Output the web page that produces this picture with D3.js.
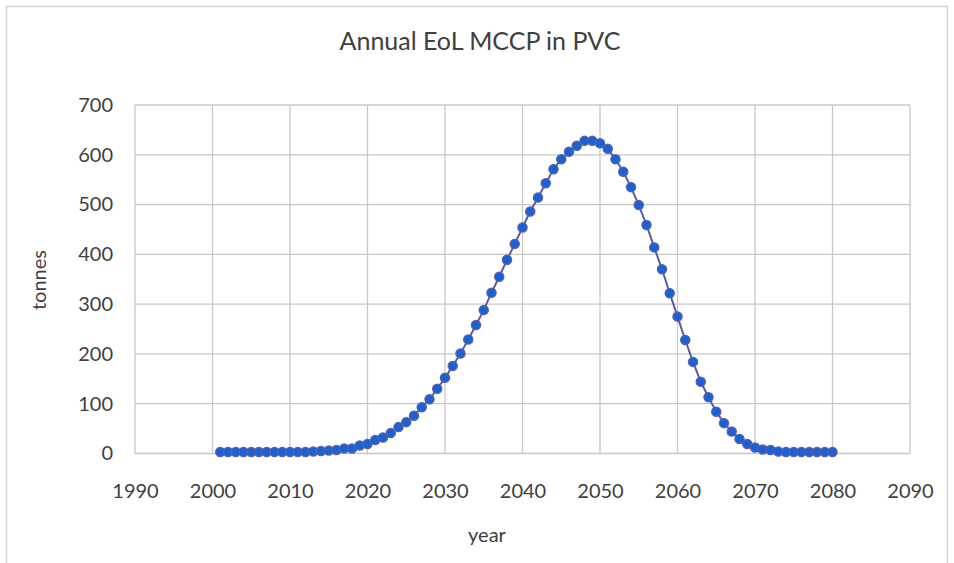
<!DOCTYPE html>
<html>
<head>
<meta charset="utf-8">
<script src="https://cdn.jsdelivr.net/npm/d3@7"></script>
<style>
  body { margin: 0; background: #fff; }
  text { font-family: Lato, "Open Sans", sans-serif; fill: #404040; }
</style>
</head>
<body>
<script>
// chart size
const w = 954;
const h = 563;

// the data
const years = d3.range(2001, 2081);
const tonnes = [
  3, 3, 3, 3, 3, 3, 3, 3, 3, 3,
  3, 3, 4, 5, 6, 7, 10, 10, 16, 19,
  27, 32, 41, 53, 63, 76, 93, 109, 130, 152,
  176, 201, 229, 258, 288, 323, 355, 389, 421, 454,
  486, 514, 543, 571, 591, 606, 618, 628, 628, 623,
  612, 591, 566, 535, 499, 459, 414, 370, 322, 275,
  228, 184, 144, 113, 84, 61, 44, 29, 19, 12,
  8, 7, 4, 3, 3, 3, 3, 3, 3, 3
];
const xTicks = [1990, 2000, 2010, 2020, 2030, 2040, 2050, 2060, 2070, 2080, 2090];
const yTicks = [0, 100, 200, 300, 400, 500, 600, 700];
const title = "Annual EoL MCCP in PVC";
const xTitle = "year";
const yTitle = "tonnes";

const points = years.map((y, i) => [y, tonnes[i]]);

// plot area
const plotLeft = 135, plotRight = 910, plotTop = 105, plotBottom = 453.5;

const xScale = d3.scaleLinear().domain([1990, 2090]).range([plotLeft, plotRight]);
const yScale = d3.scaleLinear().domain([0, 700]).range([plotBottom, plotTop]);

const svg = d3.select("body").append("svg")
    .attr("width", w)
    .attr("height", h);

// outer frame
svg.append("rect")
    .attr("x", 6.5).attr("y", 6.5)
    .attr("width", 941).attr("height", 620)
    .attr("fill", "none")
    .attr("stroke", "#d0d0d0")
    .attr("stroke-width", 1.3);

// title
svg.append("text")
    .attr("x", 480).attr("y", 50)
    .attr("text-anchor", "middle")
    .attr("font-size", 25)
    .text(title);

// gridlines
svg.append("g").selectAll("line")
    .data(yTicks)
    .enter()
    .append("line")
    .attr("x1", plotLeft).attr("x2", plotRight)
    .attr("y1", d => yScale(d)).attr("y2", d => yScale(d))
    .attr("stroke", "#c8c8c8")
    .attr("stroke-width", 1.3);

svg.append("g").selectAll("line")
    .data(xTicks)
    .enter()
    .append("line")
    .attr("x1", d => xScale(d)).attr("x2", d => xScale(d))
    .attr("y1", plotTop).attr("y2", plotBottom)
    .attr("stroke", "#c8c8c8")
    .attr("stroke-width", 1.3);

// axes (labels only)
const yAxis = d3.axisLeft(yScale).tickValues(yTicks).tickSize(0).tickPadding(22);
svg.append("g")
    .attr("transform", `translate(${plotLeft},0)`)
    .call(yAxis)
    .call(g => g.select(".domain").remove())
    .selectAll("text")
    .attr("font-family", "Lato, sans-serif")
    .attr("font-size", 20)
    .attr("fill", "#404040");

const xAxis = d3.axisBottom(xScale).tickValues(xTicks).tickFormat(d3.format("d")).tickSize(0).tickPadding(30);
svg.append("g")
    .attr("transform", `translate(0,${plotBottom})`)
    .call(xAxis)
    .call(g => g.select(".domain").remove())
    .selectAll("text")
    .attr("font-family", "Lato, sans-serif")
    .attr("font-size", 20)
    .attr("fill", "#404040");

// axis titles
svg.append("text")
    .attr("x", 487).attr("y", 542)
    .attr("text-anchor", "middle")
    .attr("font-size", 20)
    .text(xTitle);

svg.append("text")
    .attr("transform", "translate(46,280) rotate(-90)")
    .attr("text-anchor", "middle")
    .attr("font-size", 20)
    .text(yTitle);

// the line
const line = d3.line()
    .x(d => xScale(d[0]))
    .y(d => yScale(d[1]));

svg.append("path")
    .datum(points)
    .attr("d", line)
    .attr("fill", "none")
    .attr("stroke", "#5b5b9f")
    .attr("stroke-width", 2);

// markers
svg.append("g").selectAll("circle")
    .data(points)
    .enter()
    .append("circle")
    .attr("cx", d => xScale(d[0]))
    .attr("cy", d => yScale(d[1]))
    .attr("r", 4.6)
    .attr("fill", "#1862d6")
    .attr("stroke", "#5e5ea0")
    .attr("stroke-width", 1.3);
</script>
</body>
</html>
